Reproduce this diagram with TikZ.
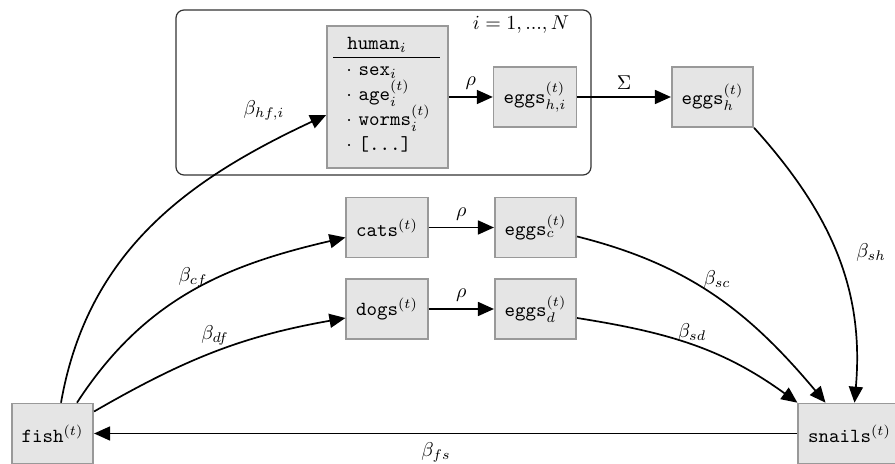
\documentclass[tikz,border=0pt]{standalone}
\usetikzlibrary{arrows.meta}
\begin{document}
\begin{tikzpicture}[x=0.5pt,y=-0.5pt,
  box/.style={draw=black!40, line width=0.8pt, fill=black!10, inner xsep=5pt, minimum height=30pt, minimum width=39pt},
  arr/.style={line width=0.85pt, -{Triangle[length=8pt,width=7pt]}},
  lbl/.style={inner sep=0pt},
  item/.style={anchor=base west, inner sep=0pt},
]
\useasboundingbox (0,0) rectangle (895,464);

% plate
\node[draw=black!80, rounded corners=4pt, line width=0.6pt, minimum width=207.5pt, minimum height=82.5pt] (plate) at (383.5,92.5) {};
\node[lbl] (plabel) at (521,25) {$i = 1, ..., N$};

% human box
\node[box, minimum width=60.5pt, minimum height=71pt] (human) at (387.5,97) {};
\node[item] (htitle) at (347,50) {\texttt{human}$_i$};
\draw[line width=0.5pt] (333,58) coordinate (hl1) -- (440,58) coordinate (hl2);
\node[item] (h1) at (346,76) {$\cdot$ \texttt{sex}$_i$};
\node[item] (h2) at (346,101) {$\cdot$ \texttt{age}$_i^{(t)}$};
\node[item] (h3) at (346,126) {$\cdot$ \texttt{worms}$_i^{(t)}$};
\node[item] (h4) at (346,151) {$\cdot$ \texttt{[...]}};

\node[box] (eggshi) at (535,97) {\texttt{eggs}$_{h,i}^{(t)}$};
\node[box] (eggsh) at (712.5,97) {\texttt{eggs}$_{h}^{(t)}$};
\node[box] (cats) at (387,227.5) {\texttt{cats}$^{(t)}$};
\node[box] (eggsc) at (535.5,227.5) {\texttt{eggs}$_{c}^{(t)}$};
\node[box] (dogs) at (387,309) {\texttt{dogs}$^{(t)}$};
\node[box] (eggsd) at (535.5,309) {\texttt{eggs}$_{d}^{(t)}$};
\node[box] (fish) at (52.5,433.5) {\texttt{fish}$^{(t)}$};
\node[box] (snails) at (849.5,433.5) {\texttt{snails}$^{(t)}$};

% straight arrows
\draw[arr] (human.east) -- node[above] {$\rho$} (eggshi.west);
\draw[arr] (eggshi.east) -- node[above] {$\Sigma$} (eggsh.west);
\draw[arr] (cats.east) -- node[above] {$\rho$} (eggsc.west);
\draw[arr] (dogs.east) -- node[above] {$\rho$} (eggsd.west);
\draw[arr] (snails.west) -- (fish.east);
\node[lbl] (bfs) at (436,452) {$\beta_{fs}$};

% curved arrows from fish
\draw[arr] ([xshift=4.25pt]fish.north) to[out=80,in=205] ([yshift=-9pt]human.west);
\draw[arr] ([xshift=12.25pt]fish.north) to[out=57,in=193] ([yshift=-5pt]cats.west);
\draw[arr] ([yshift=11pt]fish.east) to[out=30,in=190] ([yshift=-4.5pt]dogs.west);
\node[lbl] (bhf) at (264,110) {$\beta_{hf,i}$};
\node[lbl] (bcf) at (193,277) {$\beta_{cf}$};
\node[lbl] (bdf) at (215,335) {$\beta_{df}$};

% curved arrows to snails
\draw[arr] (eggsh.south east) to[out=-48,in=85] ([xshift=2.5pt]snails.north);
\draw[arr] ([yshift=-4.5pt]eggsc.east) to[out=-14,in=130] ([xshift=-12pt]snails.north);
\draw[arr] ([yshift=-4.5pt]eggsd.east) to[out=-9,in=144] (snails.north west);
\node[lbl] (bsh) at (871,253) {$\beta_{sh}$};
\node[lbl] (bsc) at (717,280) {$\beta_{sc}$};
\node[lbl] (bsd) at (692,333) {$\beta_{sd}$};
\end{tikzpicture}
\end{document}
